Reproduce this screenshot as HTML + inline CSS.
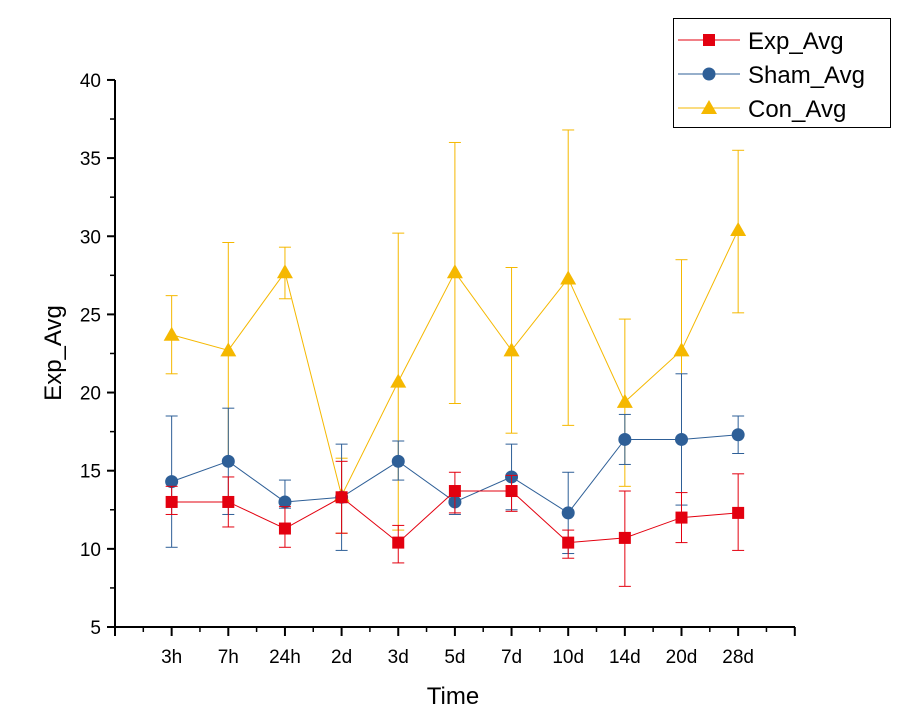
<!DOCTYPE html>
<html><head><meta charset="utf-8"><style>
body{margin:0;background:#fff;}
svg{display:block;font-family:"Liberation Sans",Arial,sans-serif;}
</style></head><body>
<svg id="c" width="906" height="720" xmlns="http://www.w3.org/2000/svg"></svg>
<script>
const categories=["3h","7h","24h","2d","3d","5d","7d","10d","14d","20d","28d"];
const expAvg=[13.0,13.0,11.3,13.3,10.4,13.7,13.7,10.4,10.7,12.0,12.3];
const expHi=[14.0,14.6,12.7,15.6,11.5,14.9,14.7,11.2,13.7,13.6,14.8];
const expLo=[12.2,11.4,10.1,11.0,9.1,12.3,12.4,9.4,7.6,10.4,9.9];
const shamAvg=[14.3,15.6,13.0,13.3,15.6,13.0,14.6,12.3,17.0,17.0,17.3];
const shamHi=[18.5,19.0,14.4,16.7,16.9,13.1,16.7,14.9,18.6,21.2,18.5];
const shamLo=[10.1,12.2,12.6,9.9,14.4,12.2,12.5,9.7,15.4,12.8,16.1];
const conAvg=[23.7,22.7,27.7,13.4,20.7,27.7,22.7,27.3,19.4,22.7,30.4];
const conHi=[26.2,29.6,29.3,15.8,30.2,36.0,28.0,36.8,24.7,28.5,35.5];
const conLo=[21.2,15.7,26.0,11.0,11.2,19.3,17.4,17.9,14.0,17.0,25.1];
const yTicks=[5,10,15,20,25,30,35,40];

const NS="http://www.w3.org/2000/svg";
const svg=document.getElementById('c');
const x=i=>115+(i+1)*56.65;
const y=v=>627-(v-5)*15.63;
function el(t,a,p){const e=document.createElementNS(NS,t);for(const k in a)e.setAttribute(k,a[k]);(p||svg).appendChild(e);return e;}

const ax=el('g',{});


el('line',{x1:115,y1:80,x2:115,y2:628,stroke:'#000','stroke-width':2},ax);
el('line',{x1:114,y1:627,x2:795,y2:627,stroke:'#000','stroke-width':2},ax);
yTicks.forEach(v=>{
  el('line',{x1:115,y1:y(v),x2:107,y2:y(v),stroke:'#000','stroke-width':2},ax);
  if(v<40) el('line',{x1:115,y1:y(v+2.5),x2:110,y2:y(v+2.5),stroke:'#000','stroke-width':1.5},ax);
  const t=el('text',{x:101,y:y(v)+7,'text-anchor':'end','font-size':19},ax);t.textContent=v;
  
  
});
for(let i=-1;i<=11;i++){
  el('line',{x1:x(i),y1:627,x2:x(i),y2:636,stroke:'#000','stroke-width':2},ax);
  if(i<11) el('line',{x1:x(i)+28.3,y1:627,x2:x(i)+28.3,y2:632,stroke:'#000','stroke-width':1.5},ax);
}
categories.forEach((c,i)=>{
  const t=el('text',{x:x(i),y:663,'text-anchor':'middle','font-size':19},ax);t.textContent=c;
  
  
});
const xt=el('text',{x:453,y:704,'text-anchor':'middle','font-size':24});xt.textContent='Time';


const yt=el('text',{x:0,y:0,'text-anchor':'middle','font-size':24,transform:'translate(61,353) rotate(-90)'});yt.textContent='Exp_Avg';



function marker(g,type,cx,cy,col){
  if(type==='sq') return el('rect',{x:cx-6,y:cy-6,width:12,height:12,fill:col},g);
  if(type==='ci') return el('circle',{cx:cx,cy:cy,r:6.5,fill:col},g);
  return el('polygon',{points:`${cx},${cy-8} ${cx-8},${cy+6} ${cx+8},${cy+6}`,fill:col},g);
}
function series(name,avg,hi,lo,col,type){
  const g=el('g',{});
  
  
  avg.forEach((v,i)=>{
    el('line',{x1:x(i),y1:y(hi[i]),x2:x(i),y2:y(lo[i]),stroke:col,'stroke-width':1},g);
    [hi[i],lo[i]].forEach(w=>el('line',{x1:x(i)-6,y1:y(w),x2:x(i)+6,y2:y(w),stroke:col,'stroke-width':1},g));
  });
  el('polyline',{points:avg.map((v,i)=>x(i)+','+y(v)).join(' '),fill:'none',stroke:col,'stroke-width':1},g);
  avg.forEach((v,i)=>{const m=marker(g,type,x(i),y(v),col);
    
    });
}
series('con',conAvg,conHi,conLo,'#f5b800','tr');
series('sham',shamAvg,shamHi,shamLo,'#2e5f97','ci');
series('exp',expAvg,expHi,expLo,'#e3000f','sq');

const lg=el('g',{});


el('rect',{x:673.5,y:18.5,width:217,height:109,fill:'#fff',stroke:'#000','stroke-width':1},lg);
[['Exp_Avg','#e3000f','sq'],['Sham_Avg','#2e5f97','ci'],['Con_Avg','#f5b800','tr']].forEach((d,k)=>{
  const cy=40+k*34;
  const e=el('g',{},lg);
  
  
  el('line',{x1:678,y1:cy,x2:740,y2:cy,stroke:d[1],'stroke-width':1},e);
  marker(e,d[2],709,cy,d[1]);
  const t=el('text',{x:748,y:cy+9,'font-size':24},e);t.textContent=d[0];
});
</script>
</body></html>
